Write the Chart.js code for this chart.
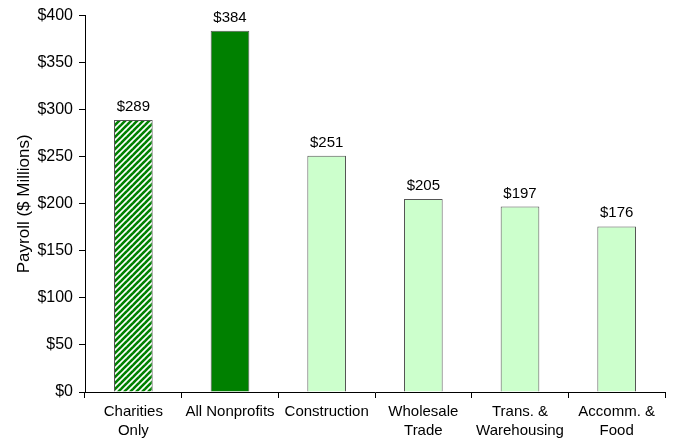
<!DOCTYPE html>
<html>
<head>
<meta charset="utf-8">
<script src="https://cdn.jsdelivr.net/npm/chart.js@4.4.1/dist/chart.umd.min.js"></script>
<style>
  html, body { margin: 0; padding: 0; background: #fff; }
  #wrap { width: 673px; height: 442px; }
</style>
</head>
<body>
<div id="wrap"><canvas id="payrollChart" width="673" height="442"></canvas></div>
<script>
// payroll by sector, $ millions
const sectors = [
  ["Charities", "Only"],
  "All Nonprofits",
  "Construction",
  ["Wholesale", "Trade"],
  ["Trans. &", "Warehousing"],
  ["Accomm. &", "Food"]
];
const payroll = [289, 384, 251, 205, 197, 176];
const yTicks = [0, 50, 100, 150, 200, 250, 300, 350, 400];

// striped fill for the charities bar
function stripePattern() {
  const size = 6;
  const c = document.createElement("canvas");
  c.width = size;
  c.height = size;
  const g = c.getContext("2d");
  g.fillStyle = "#ffffff";
  g.fillRect(0, 0, size, size);
  g.strokeStyle = "#008000";
  g.lineWidth = 2.6;
  for (let k = -1; k <= 1; k++) {
    g.beginPath();
    g.moveTo(k * size - 1, size + 1);
    g.lineTo(k * size + size + 1, -1);
    g.stroke();
  }
  return g.createPattern(c, "repeat");
}

const fills = [stripePattern(), "#008000", "#ccffcc", "#ccffcc", "#ccffcc", "#ccffcc"];

// "$xxx" above each bar
const valueLabels = {
  id: "valueLabels",
  afterDatasetsDraw(chart) {
    const ctx = chart.ctx;
    const meta = chart.getDatasetMeta(0);
    ctx.save();
    ctx.font = "15px 'Liberation Sans', Arial, sans-serif";
    ctx.fillStyle = "#000";
    ctx.textAlign = "center";
    ctx.textBaseline = "alphabetic";
    meta.data.forEach((bar, i) => {
      ctx.fillText("$" + payroll[i], bar.x, bar.y - 9);
    });
    ctx.restore();
  }
};

Chart.defaults.font.family = "'Liberation Sans', Arial, sans-serif";
Chart.defaults.color = "#000";

new Chart(document.getElementById("payrollChart"), {
  type: "bar",
  data: {
    labels: sectors,
    datasets: [{
      data: payroll,
      backgroundColor: fills,
      borderColor: "#555555",
      borderWidth: 1,
      barPercentage: 0.4,
      categoryPercentage: 1.0
    }]
  },
  options: {
    responsive: false,
    animation: false,
    layout: { padding: { top: 12, right: 8, left: 0, bottom: 0 } },
    plugins: {
      legend: { display: false },
      tooltip: { enabled: false }
    },
    scales: {
      x: {
        grid: {
          offset: true,
          drawOnChartArea: false,
          tickLength: 6,
          color: "#000"
        },
        border: { color: "#000", width: 1 },
        ticks: {
          font: { size: 15, lineHeight: 1.3 },
          maxRotation: 0,
          autoSkip: false,
          padding: 4
        },
        afterFit(scale) { scale.height = 50; }
      },
      y: {
        min: 0,
        max: 400,
        afterBuildTicks(scale) {
          scale.ticks = yTicks.map(v => ({ value: v }));
        },
        grid: {
          drawOnChartArea: false,
          tickLength: 6,
          color: "#000"
        },
        border: { color: "#000", width: 1 },
        ticks: {
          font: { size: 16 },
          padding: 6,
          callback: v => "$" + v
        },
        title: {
          display: true,
          text: "Payroll ($ Millions)",
          font: { size: 17 },
          padding: { top: 14, bottom: 0 }
        },
        afterFit(scale) { scale.width = 85; }
      }
    }
  },
  plugins: [valueLabels]
});
</script>
</body>
</html>
